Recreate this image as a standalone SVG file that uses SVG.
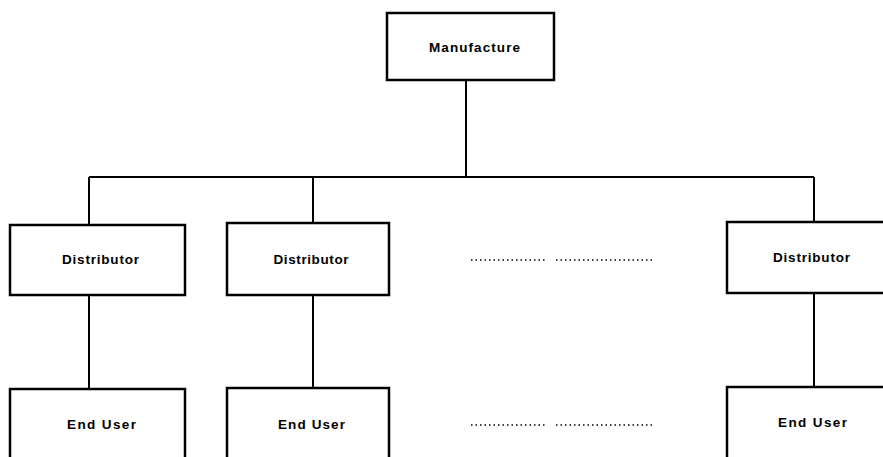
<svg xmlns="http://www.w3.org/2000/svg" width="883" height="457" viewBox="0 0 883 457">
<style>
.box{fill:#fff;stroke:#000;stroke-width:2.5}
.conn{fill:none;stroke:#000;stroke-width:2}
.dots{fill:none;stroke:#000;stroke-width:1.5;stroke-dasharray:1.5 3}
text{font-family:"Liberation Sans",Arial,sans-serif;font-weight:bold;font-size:13.5px;fill:#000;text-anchor:middle}
</style>
<rect width="883" height="457" fill="#fff"/>
<g id="connectors">
<path class="conn" d="M466 80V177M89 177H814M89 177V225M313 177V223M814 177V222"/>
<path class="conn" d="M89 295V389M313 295V388M814 293V387"/>
<path class="dots" d="M471 260H547M556 260H654"/>
<path class="dots" d="M471 425H547M556 425H655"/>
</g>
<g id="manufacture">
<rect class="box" x="387" y="13" width="167" height="67"/>
<text x="474.5" y="51.5" textLength="91" lengthAdjust="spacing">Manufacture</text>
</g>
<g id="distributor1">
<rect class="box" x="10" y="225" width="175" height="70"/>
<text x="100.5" y="264" textLength="77" lengthAdjust="spacing">Distributor</text>
</g>
<g id="distributor2">
<rect class="box" x="227" y="223" width="162" height="72"/>
<text x="311" y="264" textLength="75" lengthAdjust="spacing">Distributor</text>
</g>
<g id="distributor3">
<rect class="box" x="727" y="222" width="170" height="71"/>
<text x="811.5" y="262" textLength="77" lengthAdjust="spacing">Distributor</text>
</g>
<g id="enduser1">
<rect class="box" x="10" y="389" width="175" height="80"/>
<text x="101.5" y="429" textLength="69" lengthAdjust="spacing">End User</text>
</g>
<g id="enduser2">
<rect class="box" x="227" y="388" width="162" height="80"/>
<text x="311.5" y="429" textLength="67" lengthAdjust="spacing">End User</text>
</g>
<g id="enduser3">
<rect class="box" x="727" y="387" width="170" height="80"/>
<text x="812.5" y="427" textLength="69" lengthAdjust="spacing">End User</text>
</g>
</svg>
